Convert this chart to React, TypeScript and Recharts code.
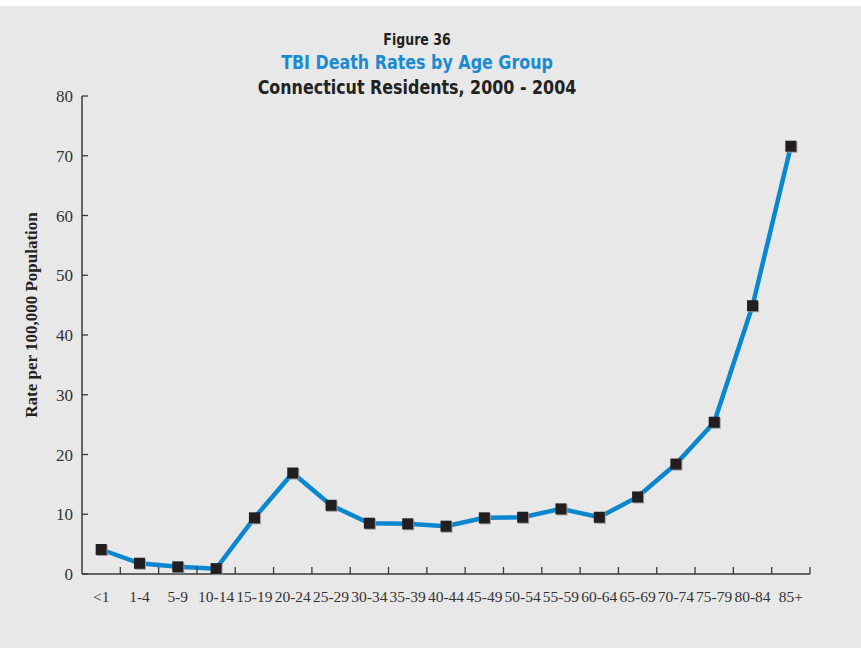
import { LineChart, Line, XAxis, YAxis } from "recharts";

const ageGroups = [
  "<1", "1-4", "5-9", "10-14", "15-19", "20-24", "25-29", "30-34", "35-39", "40-44",
  "45-49", "50-54", "55-59", "60-64", "65-69", "70-74", "75-79", "80-84", "85+",
];
const deathRates = [
  4.1, 1.8, 1.2, 0.9, 9.4, 16.9, 11.5, 8.5, 8.4, 8.0,
  9.4, 9.5, 10.9, 9.5, 12.9, 18.4, 25.4, 44.9, 71.6,
];
const yTicks = [0, 10, 20, 30, 40, 50, 60, 70, 80];

const data = ageGroups.map((age, i) => ({ age, rate: deathRates[i] }));

const AXIS = "#3a3a3a";
const SERIF = '"Liberation Serif", "Times New Roman", serif';
const CONDENSED = '"DejaVu Sans Condensed", "DejaVu Sans", sans-serif';

const SquareDot = ({ cx, cy }: any) => {
  if (cx == null || cy == null) return null;
  return (
    <g>
      <rect x={cx - 4.5} y={cy - 4.5} width={11} height={11} fill="#9a9a9a" />
      <rect x={cx - 5.5} y={cy - 5.5} width={11} height={11} fill="#231f20" />
    </g>
  );
};

const AgeTick = ({ x, y, payload }: any) => {
  const half = payload?.offset ?? 19;
  return (
    <g>
      <line x1={x + half} x2={x + half} y1={y} y2={y - 7} stroke={AXIS} strokeWidth={1.3} />
      <text
        x={x}
        y={y + 28}
        textAnchor="middle"
        fill="#333"
        fontSize={15.5}
        fontFamily={SERIF}
      >
        {payload.value}
      </text>
    </g>
  );
};

const YTitle = () => (
  <text
    transform="translate(37,315) rotate(-90)"
    textAnchor="middle"
    fill="#222"
    fontSize={17}
    fontWeight="bold"
    fontFamily={SERIF}
  >
    Rate per 100,000 Population
  </text>
);

const titleLine = (size: number, color: string) => ({
  fontSize: size,
  color,
  transform: "scaleX(0.93)",
});

export default function App() {
  return (
    <div
      style={{
        position: "absolute",
        left: 0,
        top: 0,
        width: 861,
        height: 648,
        background: "#fff",
        overflow: "hidden",
      }}
    >
      <div
        style={{
          position: "absolute",
          left: 0,
          top: 6,
          width: 861,
          height: 642,
          background: "#e8e8e8",
        }}
      />
      <div
        style={{
          position: "absolute",
          left: 0,
          top: 30,
          width: 834,
          textAlign: "center",
          fontFamily: CONDENSED,
          fontWeight: "bold",
          lineHeight: "25px",
        }}
      >
        <div style={{ ...titleLine(15, "#222"), lineHeight: "20px" }}>Figure 36</div>
        <div style={titleLine(19, "#1a8bd0")}>TBI Death Rates by Age Group</div>
        <div style={titleLine(19, "#222")}>Connecticut Residents, 2000 - 2004</div>
      </div>
      <div style={{ position: "absolute", left: 0, top: 0 }}>
        <LineChart
          width={861}
          height={648}
          data={data}
          margin={{ top: 96, right: 51, bottom: 34, left: 8 }}
        >
          <XAxis
            dataKey="age"
            scale="band"
            interval={0}
            tickSize={0}
            tickMargin={0}
            height={40}
            axisLine={{ stroke: AXIS, strokeWidth: 1.5 }}
            tickLine={false}
            tick={<AgeTick />}
          />
          <YAxis
            type="number"
            domain={[0, 80]}
            ticks={yTicks}
            width={74}
            tickSize={-6}
            tickMargin={15}
            axisLine={{ stroke: AXIS, strokeWidth: 1.5 }}
            tickLine={{ stroke: AXIS, strokeWidth: 1.3 }}
            tick={{ fill: "#333", fontSize: 17, fontFamily: SERIF }}
            label={{ content: <YTitle /> }}
          />
          <Line
            type="linear"
            dataKey="rate"
            stroke="#0a87cf"
            strokeWidth={4.5}
            dot={<SquareDot />}
            activeDot={false}
            isAnimationActive={false}
          />
        </LineChart>
      </div>
    </div>
  );
}
